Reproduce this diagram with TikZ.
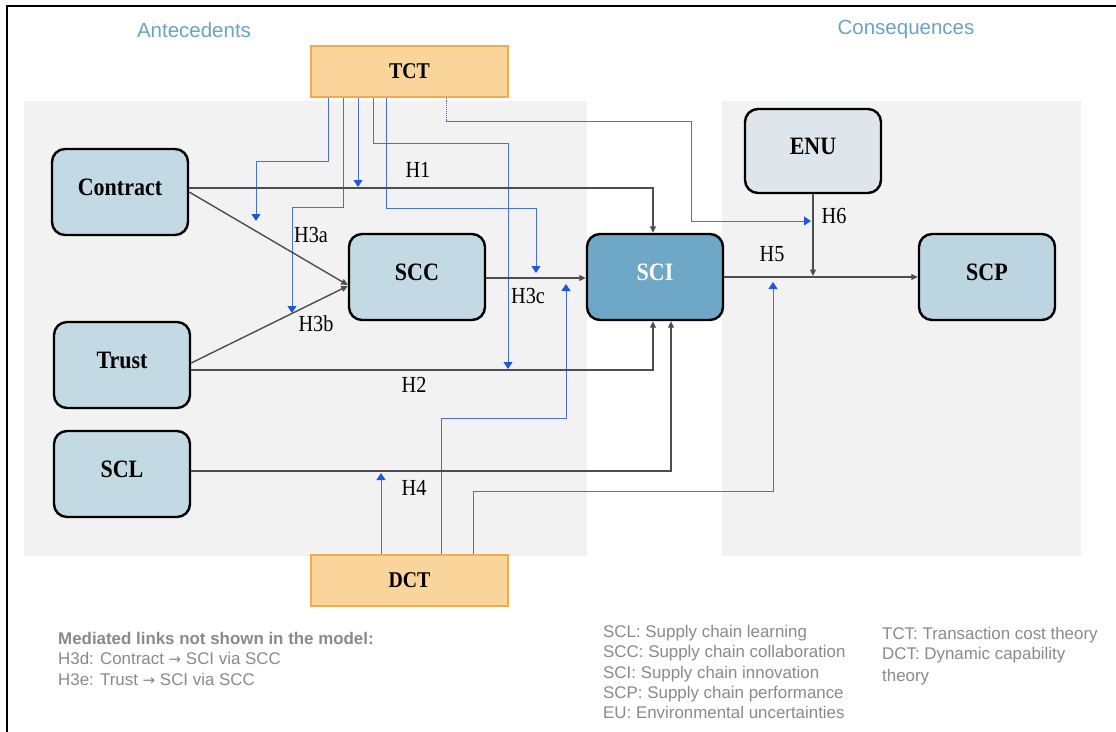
\documentclass[tikz,border=0pt]{standalone}
\usepackage{fontspec}
\setmainfont{Liberation Serif}
\newfontfamily\boxfont{Liberation Serif}[FakeStretch=0.88]
\newfontfamily\sansf{Liberation Sans}
\newfontfamily\arrowf{DejaVu Sans}
\usetikzlibrary{arrows.meta,calc}
\definecolor{panelgray}{HTML}{F2F2F2}
\definecolor{boxblue}{HTML}{C3D9E3}
\definecolor{scidark}{HTML}{6FA7C6}
\definecolor{enufill}{HTML}{DEE6EB}
\definecolor{scpfill}{HTML}{BDD5E1}
\definecolor{tctfill}{HTML}{F9D59C}
\definecolor{tctborder}{HTML}{F1AA4E}
\definecolor{linegray}{HTML}{4D4D4D}
\definecolor{blueline}{HTML}{4A6EE0}
\definecolor{bluehead}{HTML}{1F55E0}
\definecolor{headblue}{HTML}{6BA3C4}
\definecolor{textgray}{HTML}{8A8A8A}
\begin{document}
\begin{tikzpicture}[x=1pt,y=-1pt,
  box/.style={draw=black, line width=2.4pt, rounded corners=13pt,
    minimum width=136pt, minimum height=86pt, inner sep=0pt, text depth=9pt,
    font=\boxfont\bfseries\fontsize{25}{30}\selectfont},
  theorybox/.style={draw=tctborder, fill=tctfill, line width=1.3pt,
    minimum width=197pt, minimum height=51pt, inner sep=0pt,
    font=\boxfont\bfseries\fontsize{22.5}{27}\selectfont},
  gl/.style={draw=linegray, line width=1.4pt, -{Triangle[width=6pt,length=6.5pt]}},
  bl/.style={draw=blueline, line width=0.9pt, -{Triangle[width=9pt,length=7pt,color=bluehead]}},
  blplain/.style={draw=blueline, line width=0.9pt},
  hlab/.style={font=\boxfont\fontsize{23}{28}\selectfont, inner sep=0pt},
  legend/.style={font=\sansf\fontsize{16.9}{20}\selectfont, text=textgray, anchor=base west, inner sep=0pt},
  header/.style={font=\sansf\fontsize{20.5}{24}\selectfont, text=headblue, anchor=base, inner sep=0pt}
]
\useasboundingbox (0,0) rectangle (1116,731);
\fill[white] (0,0) rectangle (1116,731);
\draw[line width=2pt] (7,740) -- (7,6) -- (1125,6);

% panels
\fill[panelgray] (24,101) rectangle (587,556);
\fill[panelgray] (722,101) rectangle (1081,556);

% headers
\node[header] (hant) at (194,37) {Antecedents};
\node[header] (hcon) at (906,34) {Consequences};

% nodes
\node[box, fill=boxblue] (contract) at (120,192) {Contract};
\node[box, fill=boxblue] (scc) at (417,277) {SCC};
\node[box, fill=boxblue] (trust) at (122,365) {Trust};
\node[box, fill=boxblue] (scl) at (122,474) {SCL};
\node[box, fill=scidark, text=white] (sci) at (655,277) {SCI};
\node[box, fill=enufill, minimum height=84pt] (enu) at (813,151) {ENU};
\node[box, fill=scpfill] (scp) at (987,277) {SCP};
\node[theorybox] (tct) at (409.5,71.5) {TCT};
\node[theorybox] (dct) at (409.5,580.5) {DCT};

% moderator end points
\coordinate (t1) at (256,221);
\coordinate (t2) at (292,313);
\coordinate (t3) at (358,187);
\coordinate (t4) at (508,369);
\coordinate (t5) at (536,273);
\coordinate (b6k) at (446,121);
\coordinate (t6) at (811,221);
\coordinate (t7) at (381,473);
\coordinate (t8) at (566,284);
\coordinate (t9) at (773,282);
\coordinate (h6end) at (813,276);

% blue moderator lines (TCT)
\draw[bl] ([xshift=-81.5pt]tct.south) -- ++(0,64) -| (t1);
\draw[bl] ([xshift=-66.5pt]tct.south) -- ++(0,110) -| (t2);
\draw[bl] ([xshift=-51.5pt]tct.south) -- (t3);
\draw[bl] ([xshift=-36.5pt]tct.south) -- ++(0,46) -| (t4);
\draw[bl] ([xshift=-23.5pt]tct.south) -- ++(0,111) -| (t5);
\draw[blplain, densely dotted] ([xshift=36.5pt]tct.south) -- (b6k);
\draw[bl] (b6k) -| ($(t6)+(-120,0)$) -- (t6);

% blue moderator lines (DCT)
\draw[bl] ([xshift=-28.5pt]dct.north) -- (t7);
\draw[bl] ([xshift=31.5pt]dct.north) -- ++(0,-136) -| (t8);
\draw[bl] ([xshift=63.5pt]dct.north) -- ++(0,-63) -| (t9);

% gray hypothesis paths
\draw[gl] ([yshift=4pt]contract.east) -| ([xshift=-2pt]sci.north);
\draw[gl] (contract.east) -- ([yshift=-8pt]scc.west);
\draw[gl] ([yshift=2pt]trust.east) -- ([yshift=-9pt]scc.west);
\draw[gl] ([yshift=-5pt]trust.east) -| ([xshift=-2pt]sci.south);
\draw[gl] ([yshift=-1pt]scc.east) -- ([yshift=-1pt]sci.west);
\draw[gl] ([yshift=3pt]scl.east) -| ([xshift=16pt]sci.south);
\draw[gl] (sci) -- (scp);
\draw[gl] (enu) -- (h6end);

% hypothesis labels
\node[hlab] (lh1) at (418,170) {H1};
\node[hlab] (lh3a) at (311,235) {H3a};
\node[hlab] (lh3b) at (316,324) {H3b};
\node[hlab] (lh2) at (414,385) {H2};
\node[hlab] (lh4) at (414,488) {H4};
\node[hlab] (lh3c) at (528,296) {H3c};
\node[hlab] (lh5) at (772,254) {H5};
\node[hlab] (lh6) at (834,216) {H6};

% notes
\node[legend, font=\sansf\bfseries\fontsize{16.9}{20}\selectfont] (n1) at (58,644) {Mediated links not shown in the model:};
\node[legend] (n2) at (58,664) {H3d: Contract {\arrowf\fontsize{15}{18}\selectfont →} SCI via SCC};
\node[legend] (n3) at (58,685) {H3e: Trust {\arrowf\fontsize{15}{18}\selectfont →} SCI via SCC};

\node[legend] (g1) at (603,637) {SCL: Supply chain learning};
\node[legend] (g2) at (603,657) {SCC: Supply chain collaboration};
\node[legend] (g3) at (603,678) {SCI: Supply chain innovation};
\node[legend] (g4) at (603,698) {SCP: Supply chain performance};
\node[legend] (g5) at (603,718) {EU: Environmental uncertainties};

\node[legend] (k1) at (882,639) {TCT: Transaction cost theory};
\node[legend] (k2) at (882,659) {DCT: Dynamic capability};
\node[legend] (k3) at (882,681) {theory};
\end{tikzpicture}
\end{document}
